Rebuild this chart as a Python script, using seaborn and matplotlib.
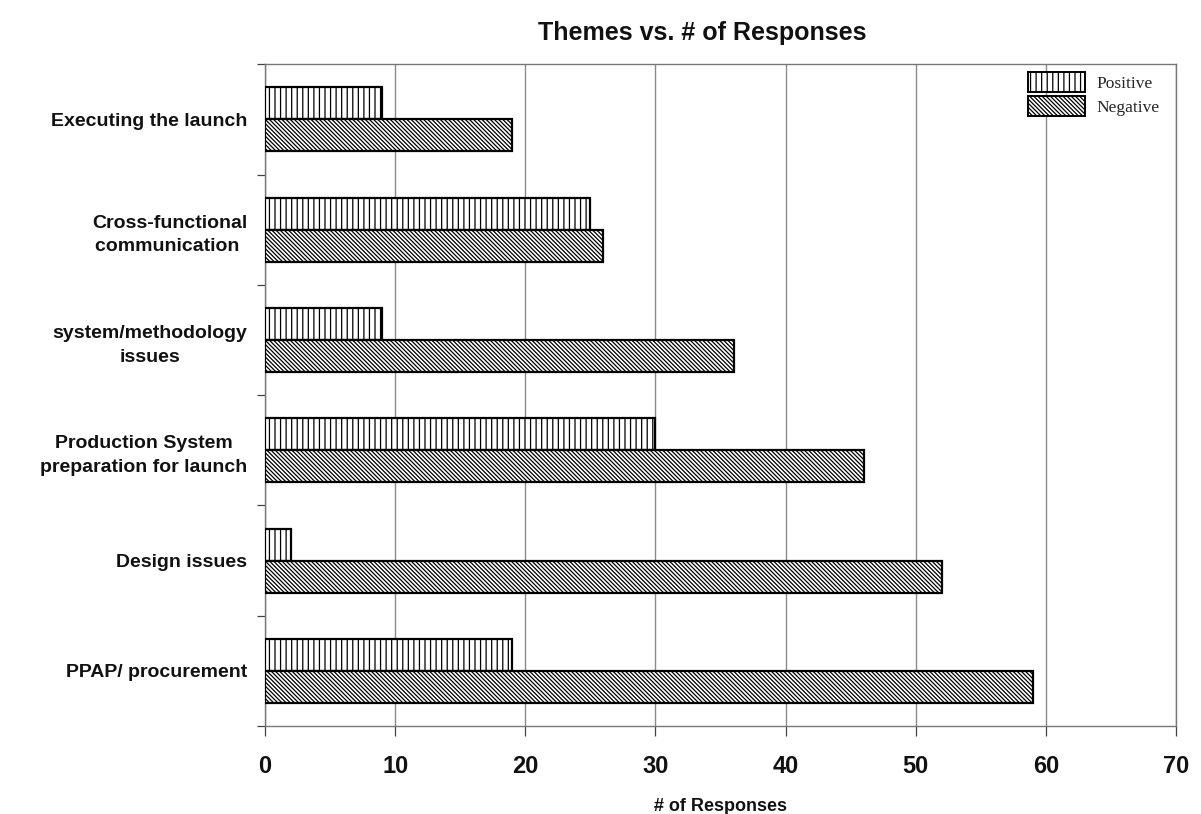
import matplotlib
matplotlib.use("Agg")
import matplotlib.pyplot as plt
import seaborn as sns
import pandas as pd
import numpy as np
from matplotlib.patches import Patch

# Survey themes and response counts
themes = [
    "Executing the launch",
    "Cross-functional\ncommunication ",
    "system/methodology\nissues",
    "Production System\npreparation for launch",
    "Design issues",
    "PPAP/ procurement",
]
positive = [9, 25, 9, 30, 2, 19]
negative = [19, 26, 36, 46, 52, 59]
series = ["Positive", "Negative"]
x_ticks = [0, 10, 20, 30, 40, 50, 60, 70]

df = pd.DataFrame({
    "Theme": themes * 2,
    "Responses": positive + negative,
    "Sentiment": ["Positive"] * len(themes) + ["Negative"] * len(themes),
})

sns.set_theme(style="white")
plt.rcParams["font.family"] = ["Liberation Sans", "DejaVu Sans"]
plt.rcParams["hatch.linewidth"] = 0.9
plt.rcParams["hatch.color"] = "black"

fig = plt.figure(figsize=(12.01, 8.14), dpi=100)
ax = fig.add_axes([0.2207, 0.108, 0.7585, 0.813])

sns.barplot(
    data=df, y="Theme", x="Responses", hue="Sentiment",
    order=themes, hue_order=series, orient="h",
    palette=["white", "white"], width=0.58, dodge=True,
    edgecolor="black", linewidth=1.6, saturation=1,
    legend=False, ax=ax,
)

# vertical stripes for positive, dense back-diagonal for negative
backslash = chr(92)
hatches = {"Positive": "|||", "Negative": backslash * 8}
for container, name in zip(ax.containers, series):
    for bar in container:
        bar.set_hatch(hatches[name])
        bar.set_edgecolor("black")
        bar.set_facecolor("white")
        bar.set_zorder(3)

ax.set_xlim(0, 70)
ax.set_ylim(len(themes) - 0.5, -0.5)
ax.set_xticks(x_ticks)
ax.set_xticklabels([str(t) for t in x_ticks], fontsize=17, fontweight="bold", color="#111111")
ax.set_yticklabels(themes, fontsize=14, fontweight="bold", color="#111111",
                   multialignment="center", linespacing=1.5)

# category boundary ticks on the value axis
ax.set_yticks(np.arange(-0.5, len(themes) + 0.5, 1), minor=True)
ax.tick_params(axis="y", which="major", length=0, pad=13)
ax.tick_params(axis="y", which="minor", left=True, length=6, width=0.9, color="#444444")
ax.tick_params(axis="x", which="major", bottom=True, length=7, width=0.9,
               color="#444444", pad=14)

ax.xaxis.grid(True, color="#8a8a8a", linewidth=1.0, zorder=0)
ax.set_axisbelow(True)
for side in ["left", "bottom", "top", "right"]:
    ax.spines[side].set_visible(True)
    ax.spines[side].set_color("#777777")
    ax.spines[side].set_linewidth(1.0)

ax.set_ylabel("")
ax.set_xlabel("# of Responses", fontsize=13, fontweight="bold", color="#111111", labelpad=14)

fig.text(0.585, 0.959, "Themes vs. # of Responses", ha="center", va="center",
         fontsize=18, fontweight="bold", color="#111111")

handles = [Patch(facecolor="white", edgecolor="black", hatch=hatches[s], linewidth=1.4)
           for s in series]
leg = ax.legend(handles, series, loc="upper left", bbox_to_anchor=(0.8375, 0.988),
                frameon=False, borderaxespad=0, borderpad=0,
                handlelength=3.3, handleheight=1.4,
                handletextpad=0.65, labelspacing=0.2,
                prop={"family": "Liberation Serif", "size": 12.5})

fig.savefig("out.png", dpi=100, facecolor="white")
